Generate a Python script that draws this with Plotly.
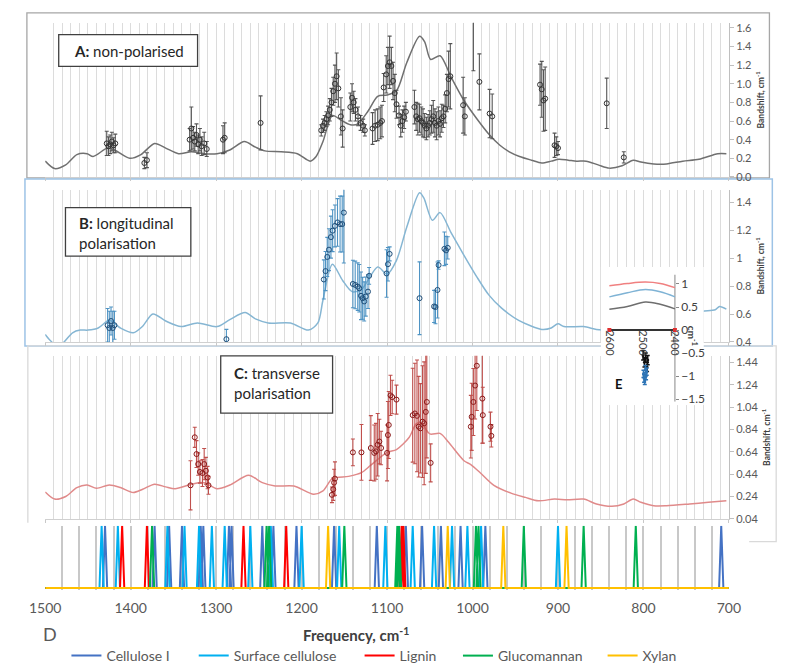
import plotly.graph_objects as go

W, H = 785, 670
FONT = "Lato, 'Open Sans', sans-serif"


def px(x):
    return x / W


def py(y):
    return 1 - y / H


# ---------------- Panel A: non-polarised ----------------
A_line_f = [1500, 1489, 1476, 1463, 1451, 1444, 1427, 1419, 1401, 1388,
            1372, 1359, 1344, 1329, 1314, 1299, 1284, 1267, 1254, 1243,
            1224, 1205, 1190, 1183, 1175, 1164, 1154, 1143, 1134, 1122,
            1111, 1100, 1089, 1077, 1062, 1056, 1049, 1038, 1025, 1010,
            995, 980, 968, 957, 945, 931, 919, 908, 899, 888,
            878, 867, 853, 840, 825, 812, 803, 788, 773, 754,
            735, 713, 703]
A_line_v = [0.17, 0.09, 0.13, 0.24, 0.25, 0.22, 0.31, 0.29, 0.20, 0.24,
            0.36, 0.31, 0.25, 0.27, 0.25, 0.25, 0.29, 0.38, 0.32, 0.28,
            0.27, 0.25, 0.17, 0.22, 0.38, 0.66, 0.61, 0.56, 0.57, 0.71,
            0.865, 0.88, 0.925, 1.225, 1.51, 1.45, 1.26, 1.30, 1.07, 0.82,
            0.625, 0.45, 0.34, 0.27, 0.22, 0.18, 0.15, 0.17, 0.19, 0.18,
            0.17, 0.17, 0.13, 0.095, 0.12, 0.18, 0.16, 0.14, 0.14, 0.17,
            0.19, 0.25, 0.25]

A_pts_f = [1428, 1426, 1424, 1422, 1420, 1418,
           1384, 1381,
           1331, 1329, 1327, 1325, 1323, 1321, 1319, 1317, 1314, 1311,
           1292, 1290,
           1248,
           1177, 1175, 1173, 1171, 1169, 1167, 1165, 1163, 1161, 1159, 1157, 1154, 1152,
           1143, 1141, 1139, 1137, 1134, 1131, 1128, 1126,
           1117, 1114, 1111, 1108, 1106,
           1104, 1101, 1099, 1097, 1095, 1093, 1091, 1089,
           1086, 1084, 1082, 1080, 1078,
           1068, 1066, 1064, 1062, 1060, 1058, 1056, 1054, 1052, 1050, 1048,
           1046, 1044, 1042, 1040, 1038, 1036, 1034, 1032, 1030, 1028, 1026,
           1011, 1009, 999, 992, 980, 977,
           921, 919, 917, 915, 904, 902, 900, 843, 823]
A_pts_v = [0.36, 0.33, 0.35, 0.38, 0.34, 0.36,
           0.15, 0.18,
           0.40, 0.52, 0.42, 0.38, 0.45, 0.35, 0.40, 0.33, 0.36, 0.30,
           0.40, 0.42,
           0.58,
           0.50, 0.55, 0.58, 0.62, 0.66, 0.72, 0.80, 0.92, 1.00, 1.08, 0.95, 0.65, 0.52,
           0.75, 0.85, 0.80, 0.72, 0.65, 0.58, 0.55, 0.50,
           0.52, 0.55, 0.56, 0.58, 0.60,
           0.96, 1.10, 1.19, 1.23, 1.19, 1.03, 0.90, 0.78,
           0.66, 0.55, 0.60, 0.64, 0.70,
           0.75, 0.65, 0.62, 0.63, 0.60, 0.58, 0.55, 0.52, 0.55, 0.58, 0.62,
           0.65, 0.58, 0.55, 0.60, 0.57, 0.63, 0.65, 0.73, 0.90, 1.05, 1.08,
           0.77, 0.65, 1.72, 1.02, 0.68, 0.65,
           0.99, 0.94, 0.82, 0.84, 0.34, 0.33, 0.31, 0.79, 0.21]
A_pts_e = [0.13, 0.10, 0.10, 0.10, 0.08, 0.10,
           0.06, 0.08,
           0.12, 0.23, 0.12, 0.10, 0.12, 0.10, 0.12, 0.10, 0.12, 0.08,
           0.15, 0.16,
           0.29,
           0.06, 0.07, 0.08, 0.08, 0.10, 0.12, 0.15, 0.15, 0.20, 0.25, 0.20, 0.20, 0.20,
           0.15, 0.15, 0.12, 0.12, 0.10, 0.08, 0.07, 0.06,
           0.17, 0.17, 0.17, 0.17, 0.17,
           0.15, 0.20, 0.20, 0.28, 0.20, 0.20, 0.20, 0.15,
           0.10, 0.12, 0.12, 0.12, 0.10,
           0.18, 0.15, 0.17, 0.15, 0.15, 0.15, 0.13, 0.12, 0.12, 0.13, 0.15,
           0.17, 0.15, 0.15, 0.15, 0.14, 0.15, 0.12, 0.15, 0.20, 0.30, 0.35,
           0.30, 0.20, 0.58, 0.30, 0.26, 0.24,
           0.22, 0.30, 0.33, 0.34, 0.13, 0.10, 0.07, 0.27, 0.06]

# ---------------- Panel B: longitudinal polarisation ----------------
B_line_f = [1500, 1494, 1486, 1478, 1468, 1459, 1450, 1438, 1425, 1412,
            1397, 1386, 1374, 1359, 1341, 1322, 1299, 1284, 1266, 1254,
            1239, 1213, 1192, 1181, 1175, 1164, 1152, 1141, 1130, 1111,
            1100, 1089, 1077, 1062, 1057, 1047, 1038, 1025, 1010, 995,
            981, 966, 946, 919, 908, 900, 893, 870, 855, 844,
            830, 800, 770, 745, 731, 716, 711, 703]
B_line_v = [0.454, 0.41, 0.37, 0.40, 0.466, 0.485, 0.485, 0.50, 0.555, 0.50,
            0.466, 0.513, 0.60, 0.55, 0.51, 0.536, 0.51, 0.56, 0.61, 0.565,
            0.536, 0.536, 0.485, 0.536, 0.70, 0.956, 0.84, 0.76, 0.775, 0.937,
            0.885, 0.984, 1.22, 1.467, 1.43, 1.27, 1.325, 1.18, 1.02, 0.866,
            0.737, 0.642, 0.555, 0.49, 0.50, 0.53, 0.51, 0.51, 0.49, 0.485,
            0.48, 0.50, 0.55, 0.60, 0.62, 0.63, 0.654, 0.635]

B_pts_f = [1427, 1425, 1423, 1421, 1419,
           1288,
           1174, 1172, 1170, 1168, 1165.7, 1163.7, 1161, 1158, 1155, 1152.5, 1150.6,
           1140, 1137.3, 1134.3, 1132.5, 1130.5, 1128.6, 1126.8, 1124.9, 1122.3, 1121,
           1100.6, 1099, 1097,
           1062,
           1045, 1043.4, 1041, 1039.7,
           1032.9, 1031, 1029]
B_pts_v = [0.52, 0.50, 0.55, 0.50, 0.52,
           0.42,
           0.847, 0.907, 1.008, 1.06, 1.15, 1.196, 1.23, 1.255, 1.243, 1.243, 1.325,
           0.815, 0.808, 0.796, 0.784, 0.73, 0.713, 0.69, 0.725, 0.76, 0.873,
           0.89, 0.956, 1.03,
           0.713,
           0.654, 0.65, 0.772, 0.95,
           1.066, 1.055, 1.073]
B_pts_e = [0.12, 0.12, 0.10, 0.12, 0.10,
           0.07,
           0.14, 0.14, 0.14, 0.15, 0.15, 0.15, 0.15, 0.17, 0.20, 0.20, 0.36,
           0.17, 0.17, 0.17, 0.17, 0.17, 0.15, 0.14, 0.14, 0.12, 0.06,
           0.17, 0.12, 0.05,
           0.26,
           0.115, 0.12, 0.20, 0.03,
           0.12, 0.10, 0.08]

# ---------------- Panel C: transverse polarisation ----------------
C_line_f = [1500, 1489, 1476, 1463, 1451, 1440, 1425, 1412, 1397, 1386,
            1372, 1359, 1348, 1329, 1314, 1299, 1284, 1262, 1246, 1231,
            1209, 1186, 1175, 1164, 1145, 1130, 1119, 1100, 1089, 1074,
            1066, 1060, 1050, 1038, 1028, 1010, 1002, 991, 975, 955,
            938, 923, 904, 889, 870, 855, 837, 823, 812, 803,
            788, 773, 746, 724, 703]
C_line_v = [0.281, 0.217, 0.24, 0.32, 0.343, 0.314, 0.343, 0.32, 0.276, 0.305,
            0.35, 0.326, 0.31, 0.35, 0.364, 0.31, 0.343, 0.43, 0.364, 0.334,
            0.334, 0.26, 0.29, 0.40, 0.42, 0.453, 0.52, 0.635, 0.66, 0.77,
            0.89, 0.895, 0.80, 0.805, 0.725, 0.56, 0.526, 0.453, 0.34, 0.27,
            0.232, 0.202, 0.217, 0.21, 0.217, 0.173, 0.152, 0.173, 0.217, 0.188,
            0.157, 0.157, 0.173, 0.188, 0.202]

C_pts_f = [1330, 1325, 1323, 1321, 1319, 1316, 1314, 1312, 1310, 1309,
           1164.5, 1163, 1162, 1161,
           1140, 1130, 1119, 1115, 1113, 1111, 1109, 1107, 1100, 1099, 1098, 1096, 1094, 1089,
           1070, 1067.5, 1065, 1063, 1061, 1058.5, 1056.6, 1054.7, 1053.5, 1049,
           1002, 1001, 999, 997, 995, 988.5, 988, 979, 978]
C_pts_v = [0.34, 0.77, 0.62, 0.53, 0.46, 0.45, 0.53, 0.47, 0.41, 0.34,
           0.255, 0.305, 0.364, 0.40,
           0.635, 0.635, 0.674, 0.63, 0.644, 0.703, 0.732, 0.674, 0.63, 0.79, 0.88, 1.145, 1.13, 1.107,
           0.968, 0.983, 0.962, 0.865, 0.85, 0.91, 0.895, 0.997, 1.086, 0.541,
           0.865, 0.953, 1.086, 1.233, 1.41, 1.116, 0.968, 0.865, 0.783]
C_pts_e = [0.22, 0.09, 0.12, 0.10, 0.10, 0.12, 0.14, 0.12, 0.10, 0.08,
           0.07, 0.10, 0.12, 0.15,
           0.12, 0.25, 0.29, 0.25, 0.25, 0.28, 0.20, 0.15, 0.25, 0.30, 0.30, 0.18, 0.15, 0.13,
           0.42, 0.45, 0.50, 0.45, 0.40, 0.50, 0.55, 0.55, 0.50, 0.17,
           0.28, 0.30, 0.30, 0.30, 0.40, 0.40, 0.25, 0.13, 0.10]

# ---------------- Panel D: band assignments ----------------
D_names = ["Cellulose I", "Surface cellulose", "Lignin", "Glucomannan", "Xylan"]
D_colors = ["#4472C4", "#00B0F0", "#FF0000", "#00B050", "#FFC000"]
D_cellulose_I = [1430, 1372, 1355, 1340, 1318, 1315, 1285, 1282, 1246, 1233,
                 1206, 1162, 1112, 1078, 1059, 1037, 1014, 985, 709]
D_surface_cellulose = [1434, 1415, 1357, 1337, 1320, 1305, 1290, 1260, 1236, 1200,
                       1156, 1102, 1070, 1045, 1024, 1006, 990, 900]
D_lignin = [1410, 1381, 1268, 1218, 1083, 1081]
D_glucomannan = [1375, 1241, 1238, 1150, 1088, 1086, 996, 993, 940, 870, 809]
D_xylan = [1169, 1029, 964, 890]
D_bands = [D_cellulose_I, D_surface_cellulose, D_lignin, D_glucomannan, D_xylan]
freq_ticks = [1500, 1400, 1300, 1200, 1100, 1000, 900, 800, 700]

# ---------------- Inset E ----------------
E_line_f = [2600, 2545, 2490, 2445, 2400]
E_red = [0.96, 1.01, 1.04, 1.01, 0.92]
E_blue = [0.72, 0.81, 0.88, 0.83, 0.72]
E_gray = [0.45, 0.51, 0.61, 0.56, 0.46]
E_base_f = [2600, 2400]
E_base_v = [0, 0]
E_blue_pts_f = [2496, 2494, 2492, 2490, 2488, 2486]
E_blue_pts_v = [-0.95, -1.05, -1.10, -0.85, -1.00, -0.90]
E_blue_pts_e = [0.08, 0.08, 0.08, 0.08, 0.08, 0.08]
E_blk_pts_f = [2497, 2493, 2489, 2485, 2483]
E_blk_pts_v = [-0.55, -0.70, -0.60, -0.80, -0.65]
E_blk_pts_e = [0.10, 0.10, 0.10, 0.10, 0.10]
E_yticks = [-1.5, -1, -0.5, 0, 0.5, 1]
E_xticks = [2600, 2500, 2400]

fig = go.Figure()


def add_panel(xa, ya, lf, lv, lcol, pf, pv, pe, ecol, mcol):
    fig.add_trace(go.Scatter(x=lf, y=lv, mode="lines", xaxis=xa, yaxis=ya,
                             line=dict(color=lcol, width=1.5, shape="spline", smoothing=0.8),
                             showlegend=False, hoverinfo="skip"))
    fig.add_trace(go.Scatter(x=pf, y=pv, mode="markers", xaxis=xa, yaxis=ya,
                             marker=dict(symbol="circle-open", size=5, color=mcol, line=dict(width=1)),
                             error_y=dict(type="data", array=pe, color=ecol, thickness=1.1, width=2),
                             showlegend=False, hoverinfo="skip"))


add_panel("x", "y", A_line_f, A_line_v, "#707070", A_pts_f, A_pts_v, A_pts_e, "#555555", "#333333")
add_panel("x2", "y2", B_line_f, B_line_v, "#86b6d3", B_pts_f, B_pts_v, B_pts_e, "#4f94c4", "#1f4e79")
add_panel("x3", "y3", C_line_f, C_line_v, "#e08a8a", C_pts_f, C_pts_v, C_pts_e, "#c0504d", "#8b1a1a")

# Panel D spikes
HALF = 2.5
for i, (name, col, bands) in enumerate(zip(D_names, D_colors, D_bands)):
    xs, ys = [1500], [0]
    for p in sorted(bands, reverse=True):
        xs += [p + HALF, p, p - HALF]
        ys += [0, 1, 0]
    xs.append(700)
    ys.append(0)
    fig.add_trace(go.Scatter(x=xs, y=ys, mode="lines", name=name, xaxis="x4", yaxis="y4",
                             line=dict(color=col, width=2),
                             legend="legend" if i == 0 else f"legend{i + 1}",
                             hoverinfo="skip"))

# Inset E
for vals, col in [(E_red, "#f08080"), (E_blue, "#7fb3d5"), (E_gray, "#6e6e6e")]:
    fig.add_trace(go.Scatter(x=E_line_f, y=vals, mode="lines", xaxis="x5", yaxis="y5",
                             line=dict(color=col, width=1.5, shape="spline"),
                             showlegend=False, hoverinfo="skip"))
fig.add_trace(go.Scatter(x=E_base_f, y=E_base_v, mode="lines+markers", xaxis="x5", yaxis="y5",
                         line=dict(color="#333333", width=2),
                         marker=dict(symbol="square", size=4, color="#e03030"),
                         showlegend=False, hoverinfo="skip"))
fig.add_trace(go.Scatter(x=E_blk_pts_f, y=E_blk_pts_v, mode="markers", xaxis="x5", yaxis="y5",
                         marker=dict(symbol="circle", size=3, color="#111111"),
                         error_y=dict(type="data", array=E_blk_pts_e, color="#111111", thickness=1.5, width=2),
                         showlegend=False, hoverinfo="skip"))
fig.add_trace(go.Scatter(x=E_blue_pts_f, y=E_blue_pts_v, mode="markers", xaxis="x5", yaxis="y5",
                         marker=dict(symbol="circle", size=3, color="#2e75b6"),
                         error_y=dict(type="data", array=E_blue_pts_e, color="#2e75b6", thickness=1.5, width=2),
                         showlegend=False, hoverinfo="skip"))

XDOM = [px(22), px(731)]
GRID = "#dcdcdc"


def spec_x(anchor):
    return dict(domain=XDOM, range=[1500, 700], anchor=anchor, showticklabels=False,
                ticks="outside", ticklen=3, tickcolor="#c8c8c8", tick0=700, dtick=100,
                showgrid=True, gridcolor=GRID, gridwidth=1,
                minor=dict(dtick=10, showgrid=True, gridcolor=GRID, gridwidth=1, ticks=""),
                showline=True, linecolor="#d0d0d0", zeroline=False)


def spec_y(anchor, dom, rng, tick0, fmt, standoff):
    d = dict(domain=dom, range=rng, anchor=anchor, side="right", showgrid=False, zeroline=False,
             showline=True, linecolor="#bfbfbf", ticks="outside", ticklen=4, tickcolor="#bfbfbf",
             tick0=tick0, dtick=0.2, tickfont=dict(size=11, color="#595959"),
             title=dict(text="<b>Bandshift, cm<sup>-1</sup></b>", font=dict(size=8.5, color="#404040"),
                        standoff=standoff))
    if fmt:
        d["tickformat"] = fmt
    return d


E_XR = [2626.5, 2311.8]
E_YR = [-1.63, 1.37]

layout = dict(
    width=W, height=H, margin=dict(l=0, r=0, t=0, b=0), autosize=False,
    paper_bgcolor="white", plot_bgcolor="rgba(0,0,0,0)",
    font=dict(family=FONT, color="#595959"),
    xaxis=spec_x("y"),
    yaxis=spec_y("x", [py(169), py(13)], [0, 1.653], 0, ".1f", 6),
    xaxis2=spec_x("y2"),
    yaxis2=spec_y("x2", [py(336), py(182)], [0.4, 1.488], 0.4, None, 6),
    xaxis3=spec_x("y3"),
    yaxis3=spec_y("x3", [py(515), py(350)], [0.04, 1.499], 0.04, ".2f", 6),
    xaxis4=dict(domain=XDOM, range=[1500, 700], anchor="y4", tickvals=freq_ticks,
                ticks="", showticklabels=True, tickfont=dict(size=14, color="#595959"),
                ticklabelstandoff=8, showgrid=True, gridcolor="#c8c8c8", gridwidth=1.5,
                minor=dict(dtick=20, tick0=700, showgrid=True, gridcolor="#c8c8c8", gridwidth=1.5),
                showline=False, zeroline=False),
    yaxis4=dict(domain=[py(587), py(522)], range=[-0.03, 1.0], anchor="x4", visible=False),
    xaxis5=dict(domain=[px(598), px(705)], range=E_XR, anchor="free", position=py(323),
                tickvals=E_xticks, tickangle=90, ticks="", showline=False, showgrid=False,
                zeroline=False, tickfont=dict(size=11, color="#404040")),
    yaxis5=dict(domain=[py(400), py(260)], range=E_YR, anchor="free", position=px(675),
                side="right", tickvals=E_yticks, ticks="outside", ticklen=3, tickcolor="#888888",
                showline=False, showgrid=False, zeroline=False,
                tickfont=dict(size=12, color="#404040")),
)

legend_x = [44, 176, 348, 450, 600]
for i, lx in enumerate(legend_x):
    key = "legend" if i == 0 else f"legend{i + 1}"
    layout[key] = dict(x=px(lx), y=0, xanchor="left", yanchor="bottom", orientation="h",
                       bgcolor="rgba(0,0,0,0)", font=dict(size=14, color="#595959", family=FONT))

shapes = [
    dict(type="rect", xref="paper", yref="paper", x0=px(3), x1=px(773), y0=py(170), y1=py(3),
         line=dict(color="#a6a6a6", width=1.3), layer="below"),
    dict(type="rect", xref="paper", yref="paper", x0=px(1), x1=px(776), y0=py(340), y1=py(171),
         line=dict(color="#9dc3e6", width=1.5), layer="below"),
    dict(type="rect", xref="paper", yref="paper", x0=px(4), x1=px(780), y0=py(538), y1=py(340),
         line=dict(color="#d9d9d9", width=1.3), layer="below"),
    dict(type="rect", xref="paper", yref="paper", x0=0, x1=px(752), y0=py(548), y1=py(519),
         line=dict(width=0), fillcolor="white", layer="below"),
    # label boxes
    dict(type="rect", xref="paper", yref="paper", x0=px(36), x1=px(180), y0=py(57), y1=py(25),
         line=dict(color="#404040", width=1.3), fillcolor="white", layer="above"),
    dict(type="rect", xref="paper", yref="paper", x0=px(43), x1=px(173), y0=py(249), y1=py(200),
         line=dict(color="#404040", width=1.3), fillcolor="white", layer="above"),
    dict(type="rect", xref="paper", yref="paper", x0=px(204), x1=px(320), y0=py(408), y1=py(350),
         line=dict(color="#404040", width=1.3), fillcolor="white", layer="above"),
    # inset background and its y axis line (drawn in inset subplot layer)
    dict(type="rect", xref="x5", yref="y5", x0=E_XR[0], x1=E_XR[1], y0=E_YR[0], y1=E_YR[1],
         line=dict(width=0), fillcolor="white", layer="below"),
    dict(type="line", xref="x5", yref="y5", x0=2400, x1=2400, y0=-1.55, y1=1.2,
         line=dict(color="#888888", width=1), layer="below"),
]
layout["shapes"] = shapes

TXT = "#262626"
annotations = [
    dict(text="<b>A:</b> non-polarised", x=px(50), y=py(41), xref="paper", yref="paper",
         xanchor="left", yanchor="middle", showarrow=False, align="left",
         font=dict(size=15, color=TXT)),
    dict(text="<b>B:</b> longitudinal<br>polarisation", x=px(55), y=py(226), xref="paper", yref="paper",
         xanchor="left", yanchor="middle", showarrow=False, align="left",
         font=dict(size=15, color=TXT)),
    dict(text="<b>C:</b> transverse<br>polarisation", x=px(216), y=py(378), xref="paper", yref="paper",
         xanchor="left", yanchor="middle", showarrow=False, align="left",
         font=dict(size=15, color=TXT)),
    dict(text="D", x=px(27), y=py(632), xref="paper", yref="paper", xanchor="center", yanchor="middle",
         showarrow=False, font=dict(size=18, color="#595959")),
    dict(text="<b>Frequency, cm<sup>-1</sup></b>", x=px(287), y=py(632), xref="paper", yref="paper",
         xanchor="left", yanchor="middle", showarrow=False, font=dict(size=15, color="#404040")),
    dict(text="<b>E</b>", x=px(617), y=py(379), xref="paper", yref="paper", xanchor="center",
         yanchor="middle", showarrow=False, font=dict(size=13, color="#111111")),
    dict(text="<b>cm<sup>-1</sup></b>", x=px(694), y=py(330), xref="paper", yref="paper",
         xanchor="center", yanchor="middle", showarrow=False, textangle=90,
         font=dict(size=10, color="#404040")),
]
layout["annotations"] = annotations

fig.update_layout(**layout)
fig.write_html("out.html")
